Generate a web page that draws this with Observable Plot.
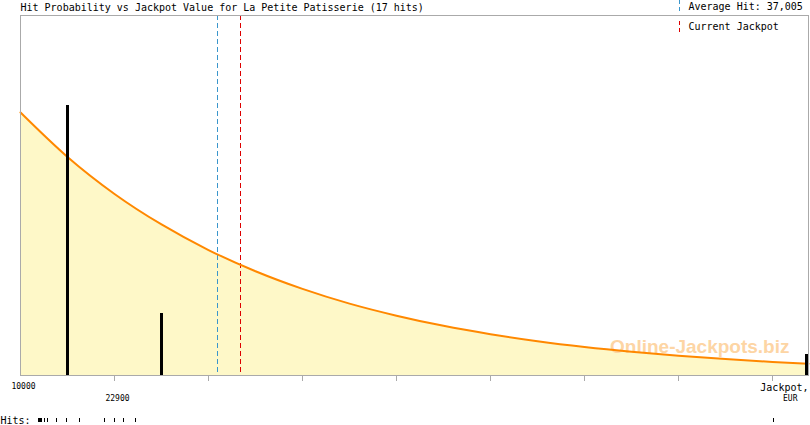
<!DOCTYPE html>
<html>
<head>
<meta charset="utf-8">
<script src="https://cdn.jsdelivr.net/npm/d3@7"></script>
<script src="https://cdn.jsdelivr.net/npm/@observablehq/plot@0.6"></script>
<style>
  html, body { margin: 0; padding: 0; background: #fff; }
  svg { display: block; }
</style>
</head>
<body>
<div id="chart"></div>
<script>
// ---- data ----
const title = "Hit Probability vs Jackpot Value for La Petite Patisserie (17 hits)";
const averageHit = 37005;
const currentJackpot = 40200;

// probability curve (relative density, same units as hit counts)
const curveX = [10000, 16450, 22900, 29350, 35800, 42250, 48700, 55150, 61600, 68050, 74500, 80950, 87400, 93850, 100300, 106750, 113200, 118140];
const curveY = [12.66, 10.52, 8.74, 7.27, 6.04, 5.02, 4.17, 3.46, 2.88, 2.39, 1.99, 1.65, 1.37, 1.14, 0.95, 0.79, 0.65, 0.57];

// histogram bars (hits per 12,900 bin)
const barX = [16450, 29350, 117900];
const barCount = [13, 3, 1];

// individual hits (jackpot values)
const hits = [12450, 12550, 12600, 12650, 12750, 12850, 12900, 13290, 13700, 14940, 16310, 18100, 21530, 22950, 24130, 25780, 113300];

// axis ticks
const xTicks = [22900, 35800, 48700, 61600, 74500, 87400, 100300, 113200];
const xLabelRow1 = [10000];
const xLabelRow2 = [22900];

const xDomain = [10000, 118140];
const yMax = 17.33;

// ---- layout ----
const W = 810, H = 425, mL = 20, mR = 2, mT = 15, mB = 50;
const plotH = H - mT - mB;
const yOfPx = px => yMax * (H - mB - px) / plotH; // layout helper for the hits row

const curve = curveX.map((x, i) => ({x, y: curveY[i]}));
const bars = barX.map((x, i) => ({x, n: barCount[i]}));

const mono = "DejaVu Sans Mono";

const chart = Plot.plot({
  width: W, height: H,
  marginLeft: mL, marginRight: mR, marginTop: mT, marginBottom: mB,
  style: {background: "#fff", fontFamily: mono, overflow: "visible"},
  x: {domain: xDomain, axis: null},
  y: {domain: [0, yMax], axis: null},
  marks: [
    Plot.areaY(curve, {x: "x", y: "y", fill: "#fef8c8", curve: "monotone-x"}),
    Plot.text(["Online-Jackpots.biz"], {frameAnchor: "bottom-right", dx: -19, dy: -29, textAnchor: "end", lineAnchor: "middle",
      fill: "#fdd5a4", fontWeight: "bold", fontSize: 19, fontFamily: "Liberation Sans"}),
    Plot.ruleX([averageHit], {stroke: "#3a96cc", strokeWidth: 1, strokeDasharray: "5,3", shapeRendering: "crispEdges"}),
    Plot.ruleX([currentJackpot], {stroke: "#dd0000", strokeWidth: 1, strokeDasharray: "5,3", shapeRendering: "crispEdges"}),
    Plot.lineY(curve, {x: "x", y: "y", stroke: "#ff8800", strokeWidth: 2, curve: "monotone-x"}),
    Plot.ruleX(bars, {x: "x", y1: 0, y2: "n", stroke: "#000", strokeWidth: 3, shapeRendering: "crispEdges"}),
    Plot.frame({stroke: "#aaa", shapeRendering: "crispEdges"}),
    Plot.axisX(xTicks, {tickSize: 6, tickFormat: () => "", label: null, stroke: "#aaa"}),
    Plot.text(xLabelRow1, {x: d => d, text: d => String(d), frameAnchor: "bottom", dx: 3, dy: 11, lineAnchor: "middle", fontSize: 8, fill: "#000"}),
    Plot.text(xLabelRow2, {x: d => d, text: d => String(d), frameAnchor: "bottom", dx: 3, dy: 23, lineAnchor: "middle", fontSize: 8, fill: "#000"}),
    Plot.text(["Jackpot,"], {frameAnchor: "bottom-right", textAnchor: "end", dy: 12, lineAnchor: "middle", fontSize: 10, fill: "#000"}),
    Plot.text(["EUR"], {frameAnchor: "bottom-right", textAnchor: "end", dx: -11, dy: 23, lineAnchor: "middle", fontSize: 8, fill: "#000"}),
    Plot.text(["Hits:"], {frameAnchor: "bottom-left", textAnchor: "start", dx: -20, dy: 45, lineAnchor: "middle", fontSize: 10, fill: "#000"}),
    Plot.ruleX(hits, {x: d => d, y1: yOfPx(418), y2: yOfPx(422), stroke: "#000", strokeWidth: 1, shapeRendering: "crispEdges"}),
    Plot.text([title], {frameAnchor: "top-left", textAnchor: "start", dy: -8, lineAnchor: "middle", fontSize: 10, fill: "#000"}),
    Plot.text(["Average Hit: " + d3.format(",")(averageHit)], {frameAnchor: "top-right", textAnchor: "start", dx: -120, dy: -8.5, lineAnchor: "middle", fontSize: 10, fill: "#000"}),
    Plot.text(["Current Jackpot"], {frameAnchor: "top-right", textAnchor: "start", dx: -120, dy: 11.5, lineAnchor: "middle", fontSize: 10, fill: "#000"})
  ]
});

// legend swatches (short dashed segments)
const svg = d3.select(chart);
svg.append("line").attr("x1", 679.5).attr("x2", 679.5).attr("y1", 0).attr("y2", 11)
  .attr("stroke", "#3a96cc").attr("stroke-dasharray", "4,3");
svg.append("line").attr("x1", 679.5).attr("x2", 679.5).attr("y1", 21).attr("y2", 33)
  .attr("stroke", "#dd0000").attr("stroke-dasharray", "4,3");

document.getElementById("chart").appendChild(chart);
</script>
</body>
</html>
